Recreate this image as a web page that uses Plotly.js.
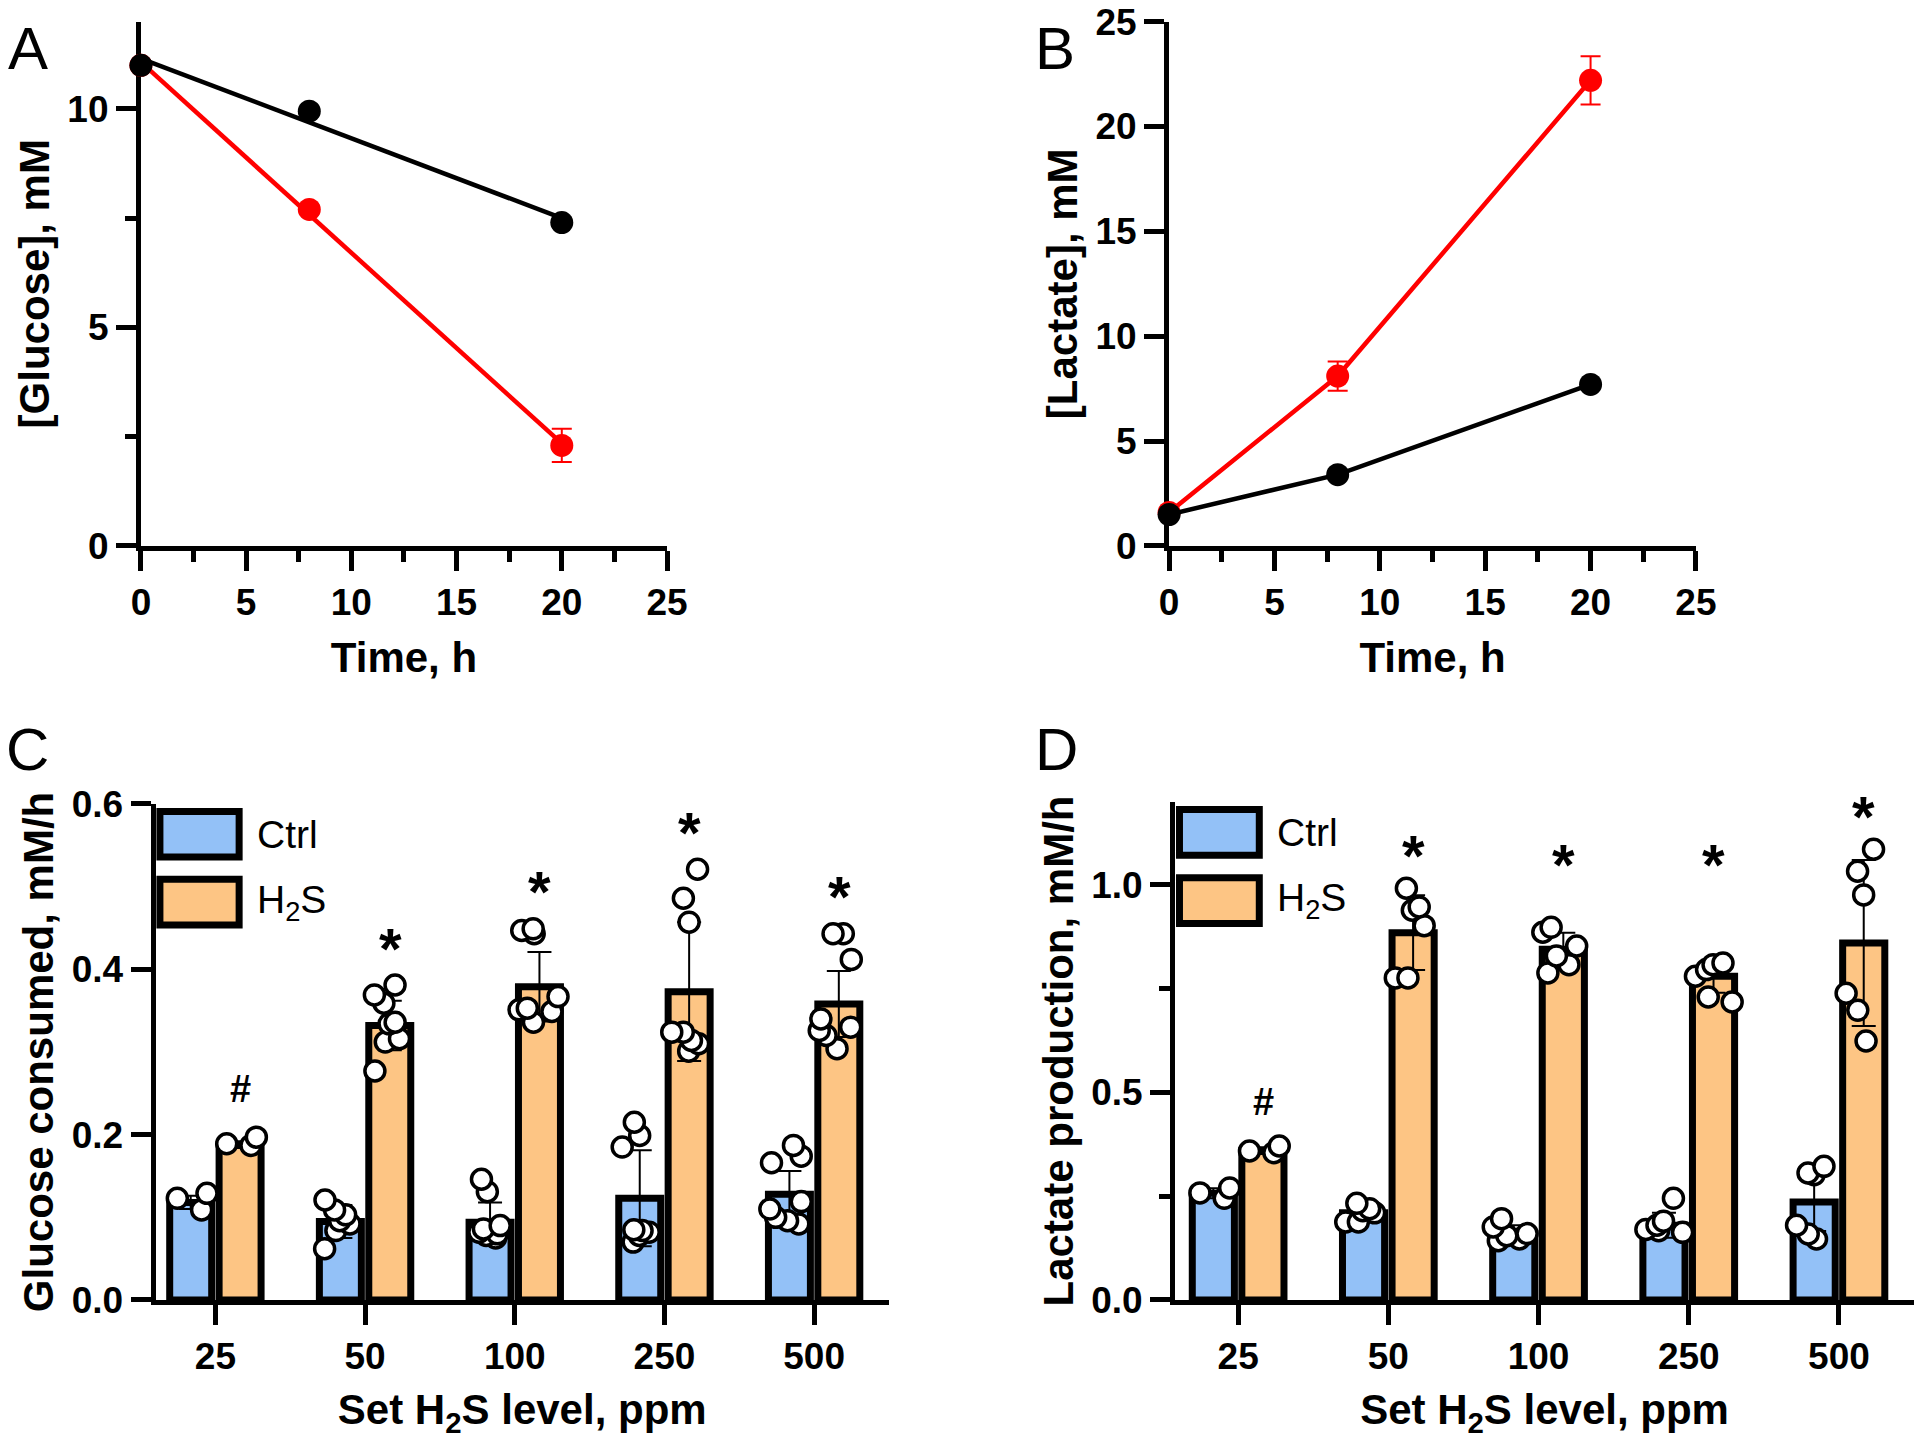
<!DOCTYPE html>
<html>
<head>
<meta charset="utf-8">
<script src="https://cdn.plot.ly/plotly-3.0.1.min.js"></script>
<style>
  html, body { margin: 0; padding: 0; background: #fff; }
  #plot { width: 1920px; height: 1439px; }
</style>
</head>
<body>
<div id="plot"></div>
<script>
// A / B: time course
var timeH = [0, 8, 20];
var glucoseCtrl = [11.0, 9.95, 7.4];
var glucoseH2S = [11.0, 7.7, 2.3];
var glucoseH2SSd = [0, 0.1, 0.38];
var lactateCtrl = [1.5, 3.4, 7.7];
var lactateH2S = [1.6, 8.1, 22.2];
var lactateH2SSd = [0, 0.7, 1.15];

// C / D: rates vs set H2S level
var levels = ["25", "50", "100", "250", "500"];

var glcCtrlMean = [0.118, 0.095, 0.094, 0.123, 0.128];
var glcCtrlSd = [0.008, 0.02, 0.024, 0.058, 0.028];
var glcH2SMean = [0.188, 0.332, 0.379, 0.373, 0.358];
var glcH2SSd = [0.004, 0.03, 0.042, 0.084, 0.04];
var glcCtrlPts = [
  [0.109, 0.129, 0.123],
  [0.121, 0.109, 0.096, 0.103, 0.092, 0.084, 0.062],
  [0.146, 0.131, 0.086, 0.082, 0.080, 0.078, 0.075, 0.09],
  [0.215, 0.199, 0.185, 0.082, 0.084, 0.070, 0.078, 0.085],
  [0.187, 0.174, 0.166, 0.119, 0.096, 0.092, 0.10, 0.11]
];
var glcH2SPts = [
  [0.187, 0.197, 0.189],
  [0.381, 0.369, 0.359, 0.334, 0.336, 0.316, 0.312, 0.277],
  [0.449, 0.447, 0.443, 0.367, 0.349, 0.351, 0.353, 0.336],
  [0.521, 0.486, 0.457, 0.310, 0.324, 0.324, 0.314, 0.301],
  [0.443, 0.443, 0.412, 0.340, 0.326, 0.320, 0.304, 0.33]
];
var glcSig = ["#", "*", "*", "*", "*"];

var lacCtrlMean = [0.257, 0.21, 0.16, 0.18, 0.236];
var lacCtrlSd = [0.012, 0.02, 0.02, 0.03, 0.07];
var lacH2SMean = [0.36, 0.885, 0.845, 0.78, 0.86];
var lacH2SSd = [0.008, 0.09, 0.04, 0.04, 0.2];
var lacCtrlPts = [
  [0.245, 0.27, 0.258],
  [0.233, 0.22, 0.188, 0.188, 0.215, 0.21],
  [0.196, 0.176, 0.155, 0.147, 0.143, 0.16],
  [0.245, 0.167, 0.18, 0.163, 0.19, 0.17],
  [0.322, 0.302, 0.306, 0.18, 0.147, 0.159]
];
var lacH2SPts = [
  [0.355, 0.371, 0.359],
  [0.992, 0.947, 0.939, 0.902, 0.776, 0.776],
  [0.898, 0.886, 0.853, 0.829, 0.808, 0.788],
  [0.796, 0.812, 0.808, 0.718, 0.73, 0.78],
  [1.086, 1.033, 0.976, 0.739, 0.698, 0.624]
];
var lacSig = ["#", "*", "*", "*", "*"];

var FONT = "Liberation Sans, Arial, sans-serif";
var RED = "#ff0000";
var BLUE = "#93c1f7";
var ORANGE = "#fdc584";

// least squares line over the sampled time span (panel A)
function fitLine(x, y) {
  var n = x.length, mx = 0, my = 0, sxx = 0, sxy = 0;
  for (var i = 0; i < n; i++) { mx += x[i] / n; my += y[i] / n; }
  for (var j = 0; j < n; j++) {
    sxx += (x[j] - mx) * (x[j] - mx);
    sxy += (x[j] - mx) * (y[j] - my);
  }
  var slope = sxy / sxx, icpt = my - slope * mx;
  var xs = [Math.min.apply(null, x), Math.max.apply(null, x)];
  return { x: xs, y: xs.map(function (v) { return icpt + slope * v; }) };
}

function flatten(pts) {
  var xs = [], ys = [];
  pts.forEach(function (grp, i) {
    grp.forEach(function (v) { xs.push(levels[i]); ys.push(v); });
  });
  return { x: xs, y: ys };
}

var data = [];

// ---- A
var fitRed = fitLine(timeH, glucoseH2S);
var fitBlack = fitLine(timeH, glucoseCtrl);
data.push({ x: fitRed.x, y: fitRed.y, mode: "lines", line: { color: RED, width: 4.5 }, xaxis: "x", yaxis: "y" });
data.push({ x: timeH, y: glucoseH2S, mode: "markers", cliponaxis: false,
  marker: { color: RED, size: 23 },
  error_y: { type: "data", array: glucoseH2SSd, color: RED, thickness: 2, width: 10 },
  xaxis: "x", yaxis: "y" });
data.push({ x: fitBlack.x, y: fitBlack.y, mode: "lines", line: { color: "black", width: 4.5 }, xaxis: "x", yaxis: "y" });
data.push({ x: timeH, y: glucoseCtrl, mode: "markers", cliponaxis: false,
  marker: { color: "black", size: 23 }, xaxis: "x", yaxis: "y" });

// ---- B
data.push({ x: timeH, y: lactateH2S, mode: "lines+markers", cliponaxis: false,
  line: { color: RED, width: 4.5 }, marker: { color: RED, size: 23 },
  error_y: { type: "data", array: lactateH2SSd, color: RED, thickness: 2, width: 10 },
  xaxis: "x2", yaxis: "y2" });
data.push({ x: timeH, y: lactateCtrl, mode: "lines+markers", cliponaxis: false,
  line: { color: "black", width: 4.5 }, marker: { color: "black", size: 23 },
  xaxis: "x2", yaxis: "y2" });

// ---- C / D bars + dots
function barPanel(xa, ya, ctrlM, ctrlSd, h2sM, h2sSd, ctrlPts, h2sPts, grp) {
  [[ctrlM, ctrlSd, BLUE, "ctrl"], [h2sM, h2sSd, ORANGE, "h2s"]].forEach(function (s) {
    data.push({ type: "bar", x: levels, y: s[0], xaxis: xa, yaxis: ya,
      offsetgroup: s[3], alignmentgroup: grp,
      marker: { color: s[2], line: { color: "black", width: 7 } },
      error_y: { type: "data", array: s[1], color: "black", thickness: 2, width: 12 } });
  });
  [[ctrlPts, "ctrl"], [h2sPts, "h2s"]].forEach(function (s) {
    var f = flatten(s[0]);
    data.push({ type: "box", x: f.x, y: f.y, xaxis: xa, yaxis: ya,
      offsetgroup: s[1], alignmentgroup: grp,
      boxpoints: "all", jitter: 1, pointpos: 0, whiskerwidth: 0,
      fillcolor: "rgba(0,0,0,0)", line: { color: "rgba(0,0,0,0)", width: 0 },
      marker: { color: "white", size: 20, line: { color: "black", width: 3.5 } } });
  });
}
barPanel("x3", "y3", glcCtrlMean, glcCtrlSd, glcH2SMean, glcH2SSd, glcCtrlPts, glcH2SPts, "c");
barPanel("x4", "y4", lacCtrlMean, lacCtrlSd, lacH2SMean, lacH2SSd, lacCtrlPts, lacH2SPts, "d");

data.forEach(function (t) { t.showlegend = false; t.hoverinfo = "skip"; });

var tickFont = { family: FONT, size: 37, color: "black", weight: "bold" };
var titleFont = { family: FONT, size: 42, color: "black", weight: "bold" };

function axis(extra) {
  var a = {
    showline: true, linecolor: "black", linewidth: 5,
    ticks: "outside", ticklen: 20, tickwidth: 5, tickcolor: "black",
    showgrid: false, zeroline: false, tickfont: tickFont,
    fixedrange: true, layer: "below traces"
  };
  for (var k in extra) a[k] = extra[k];
  return a;
}
function minor(d) {
  return { ticks: "outside", ticklen: 11, tickwidth: 5, tickcolor: "black", dtick: d, tick0: 0, showgrid: false };
}

var layout = {
  width: 1920, height: 1439,
  margin: { l: 0, r: 0, t: 0, b: 0 },
  paper_bgcolor: "white", plot_bgcolor: "rgba(0,0,0,0)",
  font: { family: FONT, color: "black" },
  barmode: "group", bargap: 0.34, bargroupgap: 0.15,
  boxmode: "group", boxgap: 0.34, boxgroupgap: 0.15,
  xaxis: axis({ domain: [0.0734, 0.3474], range: [0, 25], dtick: 5, tick0: 0, minor: minor(2.5), anchor: "y",
    title: { text: "Time, h", font: titleFont, standoff: 22 } }),
  yaxis: axis({ domain: [0.6206, 0.985], range: [0, 12], dtick: 5, tick0: 0, minor: minor(2.5), anchor: "x",
    title: { text: "[Glucose], mM", font: titleFont, standoff: 6 } }),
  xaxis2: axis({ domain: [0.6089, 0.8833], range: [0, 25], dtick: 5, tick0: 0, minor: minor(2.5), anchor: "y2",
    title: { text: "Time, h", font: titleFont, standoff: 22 } }),
  yaxis2: axis({ domain: [0.6206, 0.985], range: [0, 25], dtick: 5, tick0: 0, anchor: "x2",
    title: { text: "[Lactate], mM", font: titleFont, standoff: 6 } }),
  xaxis3: axis({ domain: [0.081, 0.463], type: "category", range: [-0.4, 4.5], anchor: "y3",
    categoryorder: "array", categoryarray: levels,
    title: { text: "Set H<sub>2</sub>S level, ppm", font: titleFont, standoff: 20 } }),
  yaxis3: axis({ domain: [0.0966, 0.4413], range: [0, 0.6], dtick: 0.2, tick0: 0, tickformat: ".1f", anchor: "x3",
    title: { text: "Glucose consumed, mM/h", font: titleFont, standoff: 6 } }),
  xaxis4: axis({ domain: [0.612, 0.9969], type: "category", range: [-0.42, 4.5], anchor: "y4",
    categoryorder: "array", categoryarray: levels,
    title: { text: "Set H<sub>2</sub>S level, ppm", font: titleFont, standoff: 20 } }),
  yaxis4: axis({ domain: [0.0966, 0.4427], range: [0, 1.2], dtick: 0.5, tick0: 0, tickformat: ".1f", minor: minor(0.25), anchor: "x4",
    title: { text: "Lactate production, mM/h", font: titleFont, standoff: 6 } }),
  shapes: [],
  annotations: []
};

// panel letters
[["A", 0.003, 0.966], ["B", 0.538, 0.966], ["C", 0.002, 0.479], ["D", 0.538, 0.479]].forEach(function (p) {
  layout.annotations.push({ text: p[0], xref: "paper", yref: "paper", x: p[1], y: p[2],
    xanchor: "left", yanchor: "middle", showarrow: false,
    font: { family: FONT, size: 60, color: "black" } });
});

// legends drawn as boxes in the C and D plot areas
function legend(xa, ya) {
  var items = [["Ctrl", BLUE, 0.985, 0.893], ["H<sub>2</sub>S", ORANGE, 0.848, 0.756]];
  items.forEach(function (it) {
    layout.shapes.push({ type: "rect", xref: xa + " domain", yref: ya + " domain",
      x0: 0.006, x1: 0.114, y0: it[3], y1: it[2],
      fillcolor: it[1], line: { color: "black", width: 7 } });
    layout.annotations.push({ text: it[0], xref: xa + " domain", yref: ya + " domain",
      x: 0.135, y: (it[2] + it[3]) / 2, xanchor: "left", yanchor: "middle", showarrow: false,
      font: { family: FONT, size: 39, color: "black" } });
  });
}
legend("x3", "y3");
legend("x4", "y4");

// significance marks above H2S dots
function sigMarks(xa, ya, pts, sig, pad, starFloor) {
  pts.forEach(function (grp, i) {
    var top = Math.max.apply(null, grp) + pad;
    if (sig[i] === "*") top = Math.max(top, starFloor);
    layout.annotations.push({ text: sig[i], xref: xa, yref: ya, x: i, y: top,
      xshift: 25, yshift: sig[i] === "*" ? -11 : 0,
      xanchor: "center", yanchor: "middle", showarrow: false,
      font: { family: FONT, size: sig[i] === "*" ? 58 : 38, color: "black", weight: "bold" } });
  });
}
sigMarks("x3", "y3", glcH2SPts, glcSig, 0.058, 0);
sigMarks("x4", "y4", lacH2SPts, lacSig, 0.105, 1.075);

Plotly.newPlot("plot", data, layout, { staticPlot: true });
</script>
</body>
</html>
